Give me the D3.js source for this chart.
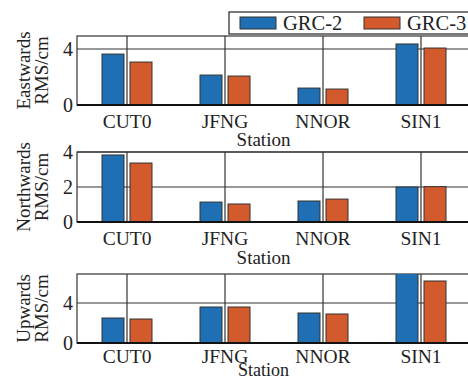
<!DOCTYPE html>
<html>
<head>
<meta charset="utf-8">
<script src="https://cdn.jsdelivr.net/npm/d3@7"></script>
<style>
  body { margin: 0; background: #fff; }
  text { font-family: "Liberation Serif", "DejaVu Serif", serif; fill: #222; }
</style>
</head>
<body>
<svg id="chart" width="468" height="382"></svg>
<script>
// data
const stations = ["CUT0", "JFNG", "NNOR", "SIN1"];
const seriesNames = ["GRC-2", "GRC-3"];
const seriesColors = ["#1f6fb4", "#d35a2c"];

const eastGRC2 = [3.64, 2.14, 1.21, 4.36];
const eastGRC3 = [3.07, 2.07, 1.14, 4.07];
const northGRC2 = [3.83, 1.14, 1.20, 2.00];
const northGRC3 = [3.37, 1.03, 1.31, 2.02];
const upGRC2 = [2.5, 3.6, 3.0, 7.2];
const upGRC3 = [2.4, 3.6, 2.9, 6.2];

const eastTicks = [0, 4];
const northTicks = [0, 2, 4];
const upTicks = [0, 4];

const panels = [
  { label: "Eastwards", values: [eastGRC2, eastGRC3], ticks: eastTicks, ymax: 4.93, top: 36, bottom: 105, tickY: 23, stationY: 146, stationSize: 19 },
  { label: "Northwards", values: [northGRC2, northGRC3], ticks: northTicks, ymax: 4.0, top: 152, bottom: 222, tickY: 23, stationY: 264, stationSize: 19 },
  { label: "Upwards", values: [upGRC2, upGRC3], ticks: upTicks, ymax: 6.9, top: 274, bottom: 343, tickY: 20, stationY: 376, stationSize: 18 }
];

const svg = d3.select("#chart");
const left = 77, right = 470;

const x = d3.scaleBand()
  .domain(stations)
  .range([left + 1, left + 1 + 4 * 98])
  .paddingInner(0)
  .paddingOuter(0);

const barW = 22, barGap = 3;

panels.forEach(function (p, pi) {
  let y = d3.scaleLinear().domain([0, p.ymax]).range([p.bottom, p.top]);
  let g = svg.append("g");

  let clipId = "clip" + pi;
  g.append("clipPath").attr("id", clipId)
    .append("rect")
    .attr("x", left).attr("y", p.top)
    .attr("width", right - left).attr("height", p.bottom - p.top);

  // frame
  g.append("rect")
    .attr("x", left).attr("y", p.top)
    .attr("width", right - left).attr("height", p.bottom - p.top)
    .attr("fill", "#fff")
    .attr("stroke", "#333")
    .attr("stroke-width", 1.2);

  // grid
  g.selectAll(".hgrid")
    .data(p.ticks.filter(t => t > 0))
    .join("line")
    .attr("x1", left).attr("x2", right)
    .attr("y1", d => y(d)).attr("y2", d => y(d))
    .attr("stroke", "#333").attr("stroke-width", 1.2);

  g.selectAll(".vgrid")
    .data(stations)
    .join("line")
    .attr("x1", d => x(d) + x.bandwidth() / 2)
    .attr("x2", d => x(d) + x.bandwidth() / 2)
    .attr("y1", p.top).attr("y2", p.bottom)
    .attr("stroke", "#333").attr("stroke-width", 1.2);

  // bars
  let bars = g.append("g").attr("clip-path", "url(#" + clipId + ")");
  p.values.forEach(function (vals, si) {
    bars.selectAll(".bar" + si)
      .data(stations)
      .join("rect")
      .attr("x", (d, i) => {
        let c = x(d) + x.bandwidth() / 2;
        return si === 0 ? c - barGap - barW : c + barGap;
      })
      .attr("y", (d, i) => y(vals[i]))
      .attr("width", barW)
      .attr("height", (d, i) => p.bottom - y(vals[i]))
      .attr("fill", seriesColors[si])
      .attr("stroke", "#333")
      .attr("stroke-width", 1);
  });

  // zero axis line
  g.append("line")
    .attr("x1", left).attr("x2", right)
    .attr("y1", p.bottom).attr("y2", p.bottom)
    .attr("stroke", "#111").attr("stroke-width", 2);

  // y tick labels
  g.selectAll(".ytick")
    .data(p.ticks)
    .join("text")
    .attr("x", left - 4)
    .attr("y", d => y(d) + 7)
    .attr("text-anchor", "end")
    .style("font-size", "20px")
    .text(d => d);

  // x tick labels
  g.selectAll(".xtick")
    .data(stations)
    .join("text")
    .attr("x", d => x(d) + x.bandwidth() / 2)
    .attr("y", p.bottom + p.tickY)
    .attr("text-anchor", "middle")
    .style("font-size", "19.5px")
    .text(d => d);

  g.append("text")
    .attr("x", left + (right - left) / 2 - 10)
    .attr("y", p.stationY)
    .attr("text-anchor", "middle")
    .style("font-size", p.stationSize + "px")
    .text("Station");

  // y label, two lines
  let cy = (p.top + p.bottom) / 2;
  g.append("text")
    .attr("transform", "translate(30," + cy + ") rotate(-90)")
    .attr("text-anchor", "middle")
    .style("font-size", "19px")
    .text(p.label);
  g.append("text")
    .attr("transform", "translate(48," + cy + ") rotate(-90)")
    .attr("text-anchor", "middle")
    .style("font-size", "19px")
    .text("RMS/cm");
});

// legend
let legend = svg.append("g");
legend.append("rect")
  .attr("x", 229).attr("y", 12)
  .attr("width", 245).attr("height", 22)
  .attr("fill", "#fff")
  .attr("stroke", "#222")
  .attr("stroke-width", 1.2);

let legendX = [240, 364];
seriesNames.forEach(function (name, i) {
  legend.append("rect")
    .attr("x", legendX[i]).attr("y", 17)
    .attr("width", 36).attr("height", 12)
    .attr("fill", seriesColors[i])
    .attr("stroke", "#333").attr("stroke-width", 1);
  legend.append("text")
    .attr("x", legendX[i] + 43).attr("y", 30)
    .style("font-size", "20.5px")
    .text(name);
});
</script>
</body>
</html>
